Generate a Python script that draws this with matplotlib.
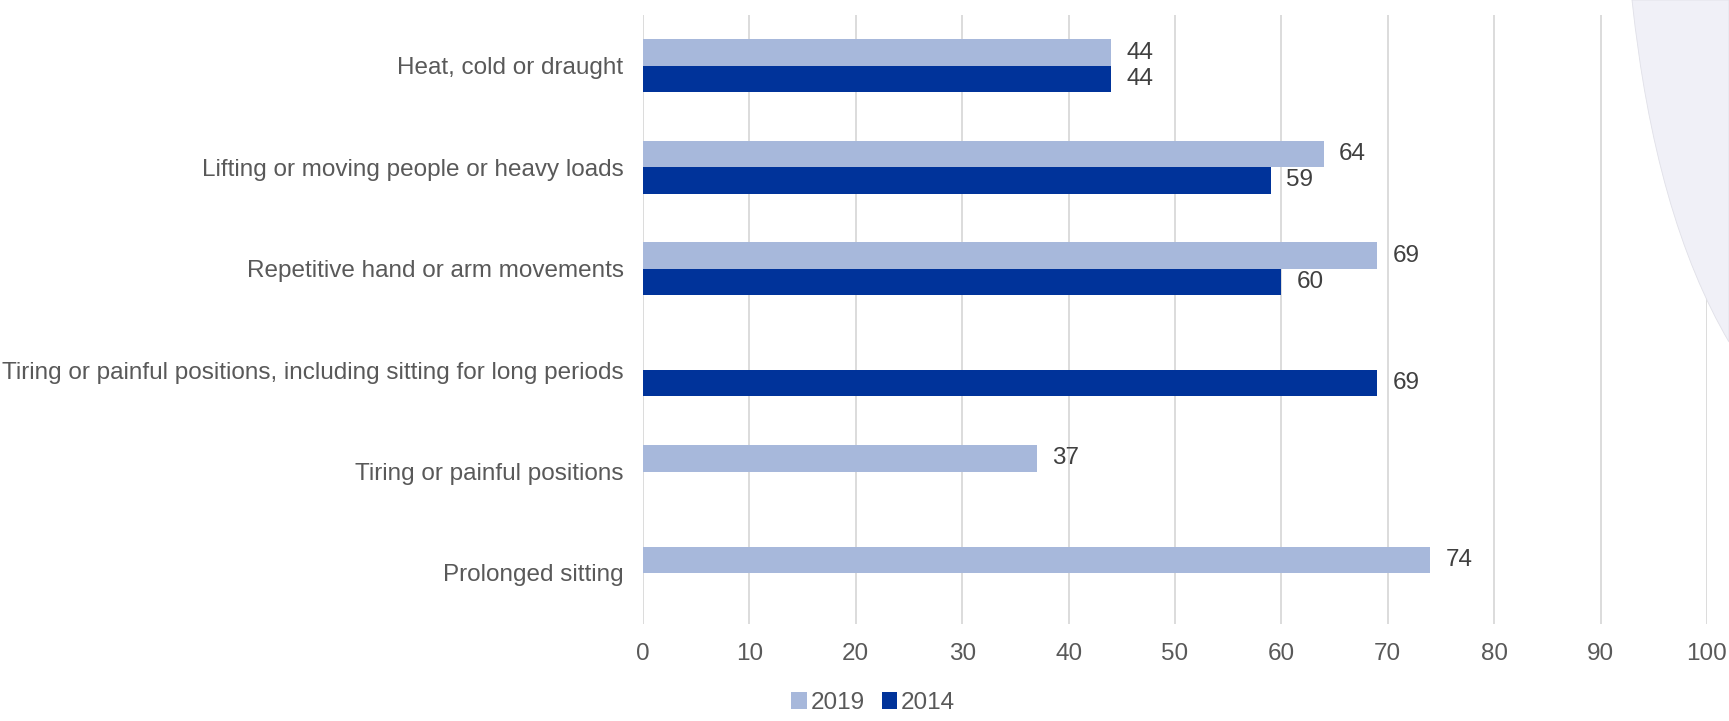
import numpy as np
import matplotlib.pyplot as plt
from matplotlib.path import Path
from matplotlib.patches import PathPatch

plt.rcParams['font.family'] = ['Liberation Sans', 'DejaVu Sans']

categories = ["Heat, cold or draught",
              "Lifting or moving people or heavy loads",
              "Repetitive hand or arm movements",
              "Tiring or painful positions, including sitting for long periods",
              "Tiring or painful positions",
              "Prolonged sitting"]
vals_2019 = [44, 64, 69, np.nan, 37, 74]
vals_2014 = [44, 59, 60, 69, np.nan, np.nan]
series = ["2019", "2014"]
colors = ["#a7b8db", "#00339a"]

fig = plt.figure(figsize=(17.29, 7.21), dpi=100)

# faint decorative swoosh at top right
verts = [(1632/1729, 1.0), (1655/1729, 0.70), (1729/1729, 1 - 342/721),
         (1.0, 1.0), (1632/1729, 1.0)]
codes = [Path.MOVETO, Path.CURVE3, Path.CURVE3, Path.LINETO, Path.CLOSEPOLY]
fig.patches.append(PathPatch(Path(verts, codes), transform=fig.transFigure,
                             facecolor="#f0f0f7", edgecolor="#e0e0e8", lw=0.6, zorder=0))

ax = fig.add_axes([643/1729, 0.135, (1707-643)/1729, 0.979-0.135])
ax.patch.set_alpha(0)

y = np.arange(len(categories))
h = 0.26
b1 = ax.barh(y - h/2, vals_2019, height=h, color=colors[0], label=series[0], zorder=2)
b2 = ax.barh(y + h/2, vals_2014, height=h, color=colors[1], label=series[1], zorder=2)

for bars, vals in ((b1, vals_2019), (b2, vals_2014)):
    for bar, v in zip(bars, vals):
        if np.isnan(v):
            continue
        ax.annotate(f"{v:.0f}", (v, bar.get_y() + bar.get_height()/2),
                    xytext=(11, 0), textcoords="offset points",
                    va="center", ha="left", fontsize=17.5, color="#404040")

ax.set_ylim(len(categories) - 0.5, -0.5)
ax.set_xlim(0, 100)
ax.set_xticks(np.arange(0, 101, 10))
ax.set_yticks(y)
ax.set_yticklabels(categories)
ax.tick_params(axis="both", length=0, labelsize=17.5, labelcolor="#595959")
ax.tick_params(axis="x", pad=14)
ax.tick_params(axis="y", pad=14)
ax.grid(axis="x", color="#d9d9d9", lw=1.3, zorder=0)
for s in ax.spines.values():
    s.set_visible(False)

ax.legend(loc="center", bbox_to_anchor=(873/1729, 1 - 703/721),
          bbox_transform=fig.transFigure, ncol=2, frameon=False,
          fontsize=17.5, labelcolor="#595959", handlelength=0.65, handleheight=0.65,
          handletextpad=0.15, columnspacing=0.7)

fig.savefig("out.png", dpi=100)
